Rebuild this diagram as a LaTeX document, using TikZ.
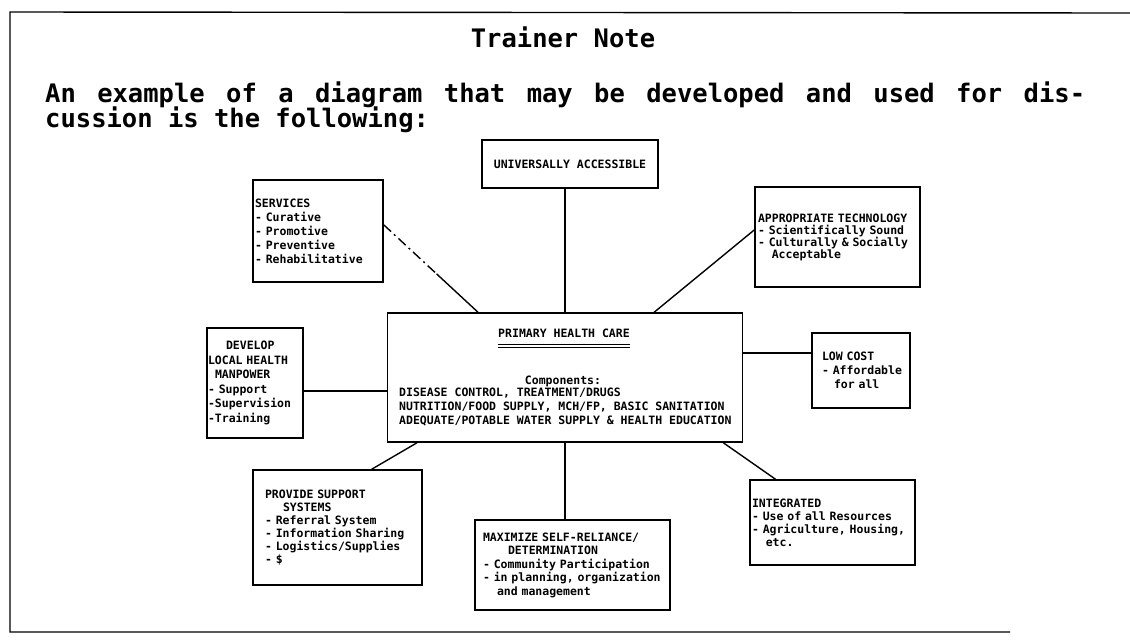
\documentclass[tikz,border=0pt]{standalone}
\usepackage{fontspec}
\usepackage{tikz}
\usetikzlibrary{calc}
\newfontfamily\typefont{DejaVu Sans Mono}

\begin{document}
\begin{tikzpicture}[
        x=1pt, y=-1pt,
        heading/.style={
            inner sep=0pt,
            font=\fontsize{25.5}{30}\selectfont\typefont\bfseries,
          },
        notebox/.style={
            draw, line width=1.4pt, align=left,
            font=\fontsize{11.5}{#1}\selectfont\typefont\bfseries,
          },
        notebox/.default=13.5,
        boxtext/.style={
            inner sep=0pt, align=left,
            font=\fontsize{11.5}{14}\selectfont\typefont\bfseries,
          },
        link/.style={line width=1.4pt},
        ]
        \useasboundingbox (0,0) rectangle (1130,643);
        \draw[link] (1130,13) -- (10,12) -- (10,632) -- (1010,632);

        \node (title) [heading] at (563,37) {Trainer Note};
        \node (intro) [heading, anchor=base west] at (45,102)
            {\hbox to 1040pt{An\hfill example\hfill of\hfill a\hfill diagram\hfill that\hfill may\hfill be\hfill developed\hfill and\hfill used\hfill for\hfill dis-}};
        \node (introend) [heading, anchor=base west] at (45,127) {cussion is the following:};

        \node (univ) [notebox, align=center, minimum width=176, minimum height=48] at (570,164)
            {UNIVERSALLY ACCESSIBLE};
        \node (srv) [notebox=14, inner xsep=2, text width=126, minimum height=102] at (318,231)
            {SERVICES\\- Curative\\- Promotive\\- Preventive\\- Rehabilitative};
        \node (tech) [notebox=12, inner xsep=3, text width=159, minimum height=100] at (837.5,237)
            {APPROPRIATE TECHNOLOGY\\- Scientifically Sound\\- Culturally \& Socially\\\hspace*{13.8pt}Acceptable};
        \node (phc) [notebox, minimum width=355, minimum height=129] at (565,377.5) {};
        \node (dev) [notebox=14.5, inner xsep=1, text width=94, minimum height=110] at (255,383)
            {\hspace*{18pt}DEVELOP\\LOCAL HEALTH\\\hspace*{7pt}MANPOWER\\- Support\\-Supervision\\-Training};
        \node (low) [notebox=14, inner xsep=10, text width=78, minimum height=75] at (861,370.5)
            {LOW COST\\\mbox{- Affordable}\\\hspace*{12pt}for all};
        \node (sup) [notebox=13, inner xsep=12, text width=145, minimum height=115] at (337.5,527.5)
            {PROVIDE SUPPORT\\\hspace*{18pt}SYSTEMS\\- Referral System\\- Information Sharing\\- Logistics/Supplies\\- \$};
        \node (max) [notebox, inner xsep=8, text width=179, minimum height=90] at (572.5,565)
            {\mbox{MAXIMIZE SELF-RELIANCE/}\\\hspace*{25pt}DETERMINATION\\\mbox{- Community Participation}\\\mbox{- in planning, organization}\\\hspace*{14pt}and management};
        \node (intg) [notebox=13, inner xsep=2, text width=161, minimum height=85] at (832.5,522.5)
            {INTEGRATED\\- Use of all Resources\\- Agriculture, Housing,\\\hspace*{13.8pt}etc.};

        \node (phchead) [boxtext] at (564,333) {PRIMARY HEALTH CARE};
        \draw[line width=1pt] ([yshift=-7pt]phchead.south west) -- ([yshift=-7pt]phchead.south east);
        \draw[line width=1pt] ([yshift=-10pt]phchead.south west) -- ([yshift=-10pt]phchead.south east);
        \node (phccomp) [boxtext] at (563,381) {Components:};
        \node (phcbody) [boxtext, anchor=north west] at (399,388)
            {DISEASE CONTROL, TREATMENT/DRUGS\\NUTRITION/FOOD SUPPLY, MCH/FP, BASIC SANITATION\\ADEQUATE/POTABLE WATER SUPPLY \& HEALTH EDUCATION};

        \coordinate (srvout) at ($(srv.north east)!0.44!(srv.south east)$);
        \coordinate (srvin) at ($(phc.north west)!0.256!(phc.north east)$);
        \coordinate (srvbreak) at ($(srvout)!0.56!(srvin)$);
        \coordinate (techout) at ($(tech.north west)!0.43!(tech.south west)$);
        \coordinate (techin) at ($(phc.north west)!0.75!(phc.north east)$);
        \coordinate (devout) at ($(dev.north east)!0.57!(dev.south east)$);
        \coordinate (lowin) at ($(low.north west)!0.27!(low.south west)$);
        \coordinate (supout) at ($(phc.south west)!0.085!(phc.south east)$);
        \coordinate (supin) at ($(sup.north west)!0.7!(sup.north east)$);
        \coordinate (intgout) at ($(phc.south west)!0.944!(phc.south east)$);
        \coordinate (intgin) at ($(intg.north west)!0.158!(intg.north east)$);

        \draw[link] (phc.north |- univ.south) -- (phc.north);
        \draw[link, dash pattern=on 10pt off 4pt on 2pt off 4pt] (srvout) -- (srvbreak);
        \draw[link] (srvbreak) -- (srvin);
        \draw[link] (techout) -- (techin);
        \draw[link] (devout) -- (devout -| phc.west);
        \draw[link] (lowin -| phc.east) -- (lowin);
        \draw[link] (supout) -- (supin);
        \draw[link] (phc.south) -- (phc.south |- max.north);
        \draw[link] (intgout) -- (intgin);
    \end{tikzpicture}
\end{document}
